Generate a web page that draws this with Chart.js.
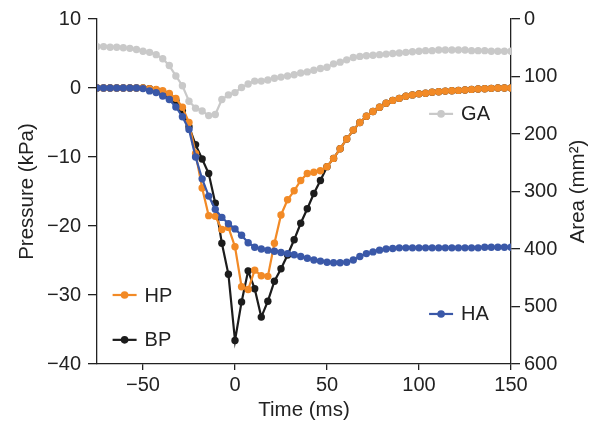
<!DOCTYPE html>
<html>
<head>
<meta charset="utf-8">
<script src="https://cdn.jsdelivr.net/npm/chart.js@4"></script>
<style>
  html, body { margin: 0; padding: 0; background: #fff; }
  #wrap { width: 595px; height: 423px; position: relative; }
</style>
</head>
<body>
<div id="wrap"><canvas id="chart"></canvas></div>
<script>
// Time (ms), one sample every 1/280 s
const time = [-75, -71.43, -67.86, -64.29, -60.71, -57.14, -53.57, -50, -46.43, -42.86, -39.29, -35.71,
  -32.14, -28.57, -25, -21.43, -17.86, -14.29, -10.71, -7.14, -3.57, 0, 3.57, 7.14, 10.71, 14.29,
  17.86, 21.43, 25, 28.57, 32.14, 35.71, 39.29, 42.86, 46.43, 50, 53.57, 57.14, 60.71, 64.29, 67.86,
  71.43, 75, 78.57, 82.14, 85.71, 89.29, 92.86, 96.43, 100, 103.57, 107.14, 110.71, 114.29, 117.86,
  121.43, 125, 128.57, 132.14, 135.71, 139.29, 142.86, 146.43, 150];

// Pressure (kPa)
const hp = [0, 0, 0, 0, 0, 0, 0, 0, -0.1, -0.2, -0.4, -0.8, -1.5, -2.8, -5.0, -9.5, -14.5, -18.5,
  -18.6, -20.5, -20.2, -23.0, -28.8, -29.2, -26.4, -27.2, -27.3, -22.5, -18.4, -16.2, -14.9, -13.4,
  -12.4, -12.2, -12.0, -11.4, -10.2, -8.8, -7.4, -6.1, -5.0, -4.1, -3.4, -2.8, -2.2, -1.8, -1.5,
  -1.2, -1.0, -0.85, -0.75, -0.6, -0.55, -0.45, -0.4, -0.35, -0.3, -0.2, -0.15, -0.1, -0.05, 0, 0, 0];
const bp = [0, 0, 0, 0, 0, 0, 0, 0, -0.1, -0.3, -0.6, -1.0, -1.8, -3.3, -5.6, -8.2, -10.3, -12.4,
  -16.7, -22.5, -27.0, -36.6, -31.0, -26.5, -29.1, -33.2, -30.9, -28.0, -26.2, -24.2, -22.0, -19.6,
  -17.5, -15.3, -13.4, -11.4, -10.2, -8.8, -7.4, -6.1, -5.0, -4.1, -3.4, -2.8, -2.2, -1.8, -1.5,
  -1.2, -1.0, -0.85, -0.75, -0.6, -0.55, -0.45, -0.4, -0.35, -0.3, -0.2, -0.15, -0.1, -0.05, 0, 0, 0];

// Area (mm2)
const ga = [48, 48, 49, 49, 50, 51, 53, 56, 58, 62, 69, 81, 99, 116, 143, 155, 160, 168, 166, 140,
  132, 128, 119, 113, 108, 108, 106, 103, 101, 99, 97, 94, 92, 89, 86, 84, 78, 75, 71, 67, 65, 64,
  63, 62, 61, 60, 59, 58, 57, 56, 55, 55, 54, 54, 54, 54, 54, 55, 55, 55, 56, 56, 56, 56];
const ha = [120, 120, 120, 120, 120, 120, 120, 121, 125, 128, 134, 140, 153, 170, 192, 240, 278,
  308, 331, 345, 356, 365, 376, 389, 397, 400, 402, 404, 406, 408, 410, 413, 416, 419, 421, 423,
  424, 424, 423, 419, 413, 408, 405, 402, 400, 399, 398, 398, 398, 398, 398, 398, 398, 398, 398,
  398, 398, 398, 398, 397, 397, 397, 397, 397];

const xTicks = [-50, 0, 50, 100, 150];
const pressureTicks = [-40, -30, -20, -10, 0, 10];
const areaTicks = [0, 100, 200, 300, 400, 500, 600];

const FONT = "'Liberation Sans', Arial, Helvetica, sans-serif";
const INK = '#222';
const ORANGE = '#f28a26';
const BLACK = '#1c1c1c';
const BLUE = '#3a58a8';
const GREY = '#c9c9c9';

function pts(ys) {
  return time.map((t, i) => ({ x: t, y: ys[i] }));
}

function series(label, ys, color, axis, order) {
  return {
    label: label,
    data: pts(ys),
    yAxisID: axis,
    borderColor: color,
    backgroundColor: color,
    borderWidth: 2.2,
    pointRadius: 3.7,
    pointBorderWidth: 0,
    pointBackgroundColor: color,
    showLine: true,
    tension: 0,
    order: order
  };
}

// legend entries sit inside the plot like in the figure
const legendItems = [
  { text: 'HP', color: ORANGE, x: -60, y: -30, axis: 'y' },
  { text: 'BP', color: BLACK, x: -60, y: -36.5, axis: 'y' },
  { text: 'HA', color: BLUE, x: 112, y: 513, axis: 'y2' },
  { text: 'GA', color: GREY, x: 112, y: 165, axis: 'y2' }
];

const inlineLegend = {
  id: 'inlineLegend',
  afterDatasetsDraw(chart) {
    const ctx = chart.ctx;
    ctx.save();
    legendItems.forEach(it => {
      const cx = chart.scales.x.getPixelForValue(it.x);
      const cy = chart.scales[it.axis].getPixelForValue(it.y);
      ctx.strokeStyle = it.color;
      ctx.lineWidth = 2.2;
      ctx.beginPath();
      ctx.moveTo(cx - 12, cy);
      ctx.lineTo(cx + 12, cy);
      ctx.stroke();
      ctx.fillStyle = it.color;
      ctx.beginPath();
      ctx.arc(cx, cy, 3.8, 0, Math.PI * 2);
      ctx.fill();
      ctx.fillStyle = INK;
      ctx.font = '20px ' + FONT;
      ctx.textAlign = 'left';
      ctx.textBaseline = 'middle';
      ctx.fillText(it.text, cx + 20, cy + 1);
    });
    // right axis title reads bottom to top, like the left one
    const a = chart.chartArea;
    ctx.translate(578, (a.top + a.bottom) / 2);
    ctx.rotate(-Math.PI / 2);
    ctx.font = '20.5px ' + FONT;
    ctx.fillStyle = INK;
    ctx.textAlign = 'center';
    ctx.textBaseline = 'middle';
    ctx.fillText('Area (mm\u00b2)', 0, 0);
    ctx.restore();
  }
};

const minus = v => String(v).replace('-', '\u2212');
const border = { display: true, color: INK, width: 1.3 };
const tickFont = { family: FONT, size: 20 };
const titleFont = { family: FONT, size: 20.5 };

const ctx = document.getElementById('chart').getContext('2d');
new Chart(ctx, {
  type: 'scatter',
  data: {
    datasets: [
      series('HA', ha, BLUE, 'y2', 1),
      series('HP', hp, ORANGE, 'y', 2),
      series('BP', bp, BLACK, 'y', 3),
      series('GA', ga, GREY, 'y2', 4)
    ]
  },
  options: {
    responsive: true,
    maintainAspectRatio: false,
    animation: false,
    layout: { padding: { top: 18, left: 0, right: 0, bottom: 0 } },
    plugins: { legend: { display: false }, tooltip: { enabled: false } },
    scales: {
      x: {
        type: 'linear',
        min: -75,
        max: 150,
        afterBuildTicks: s => { s.ticks = xTicks.map(v => ({ value: v })); },
        afterFit: s => { s.height = 59; },
        grid: { display: true, drawOnChartArea: false, drawTicks: true, tickLength: 6, color: INK, lineWidth: 1.3 },
        border: border,
        ticks: { color: INK, font: tickFont, callback: minus, padding: 3, maxRotation: 0 },
        title: { display: true, text: 'Time (ms)', color: INK, font: titleFont, padding: { top: 0, bottom: 0 } }
      },
      y: {
        position: 'left',
        min: -40,
        max: 10,
        afterBuildTicks: s => { s.ticks = pressureTicks.map(v => ({ value: v })); },
        afterFit: s => { s.width = 97; },
        grid: { display: true, drawOnChartArea: false, drawTicks: true, tickLength: 9, color: INK, lineWidth: 1.3 },
        border: border,
        ticks: { color: INK, font: tickFont, callback: minus, padding: 7 },
        title: { display: true, text: 'Pressure (kPa)', color: INK, font: titleFont, padding: { top: 15, bottom: 0 } }
      },
      y2: {
        position: 'right',
        reverse: true,
        min: 0,
        max: 600,
        afterBuildTicks: s => { s.ticks = areaTicks.map(v => ({ value: v })); },
        afterFit: s => { s.width = 84; },
        grid: { display: true, drawOnChartArea: false, drawTicks: true, tickLength: 9, color: INK, lineWidth: 1.3 },
        border: border,
        ticks: { color: INK, font: tickFont, callback: minus, padding: 4 },
        title: { display: false }
      }
    }
  },
  plugins: [inlineLegend]
});
</script>
</body>
</html>
